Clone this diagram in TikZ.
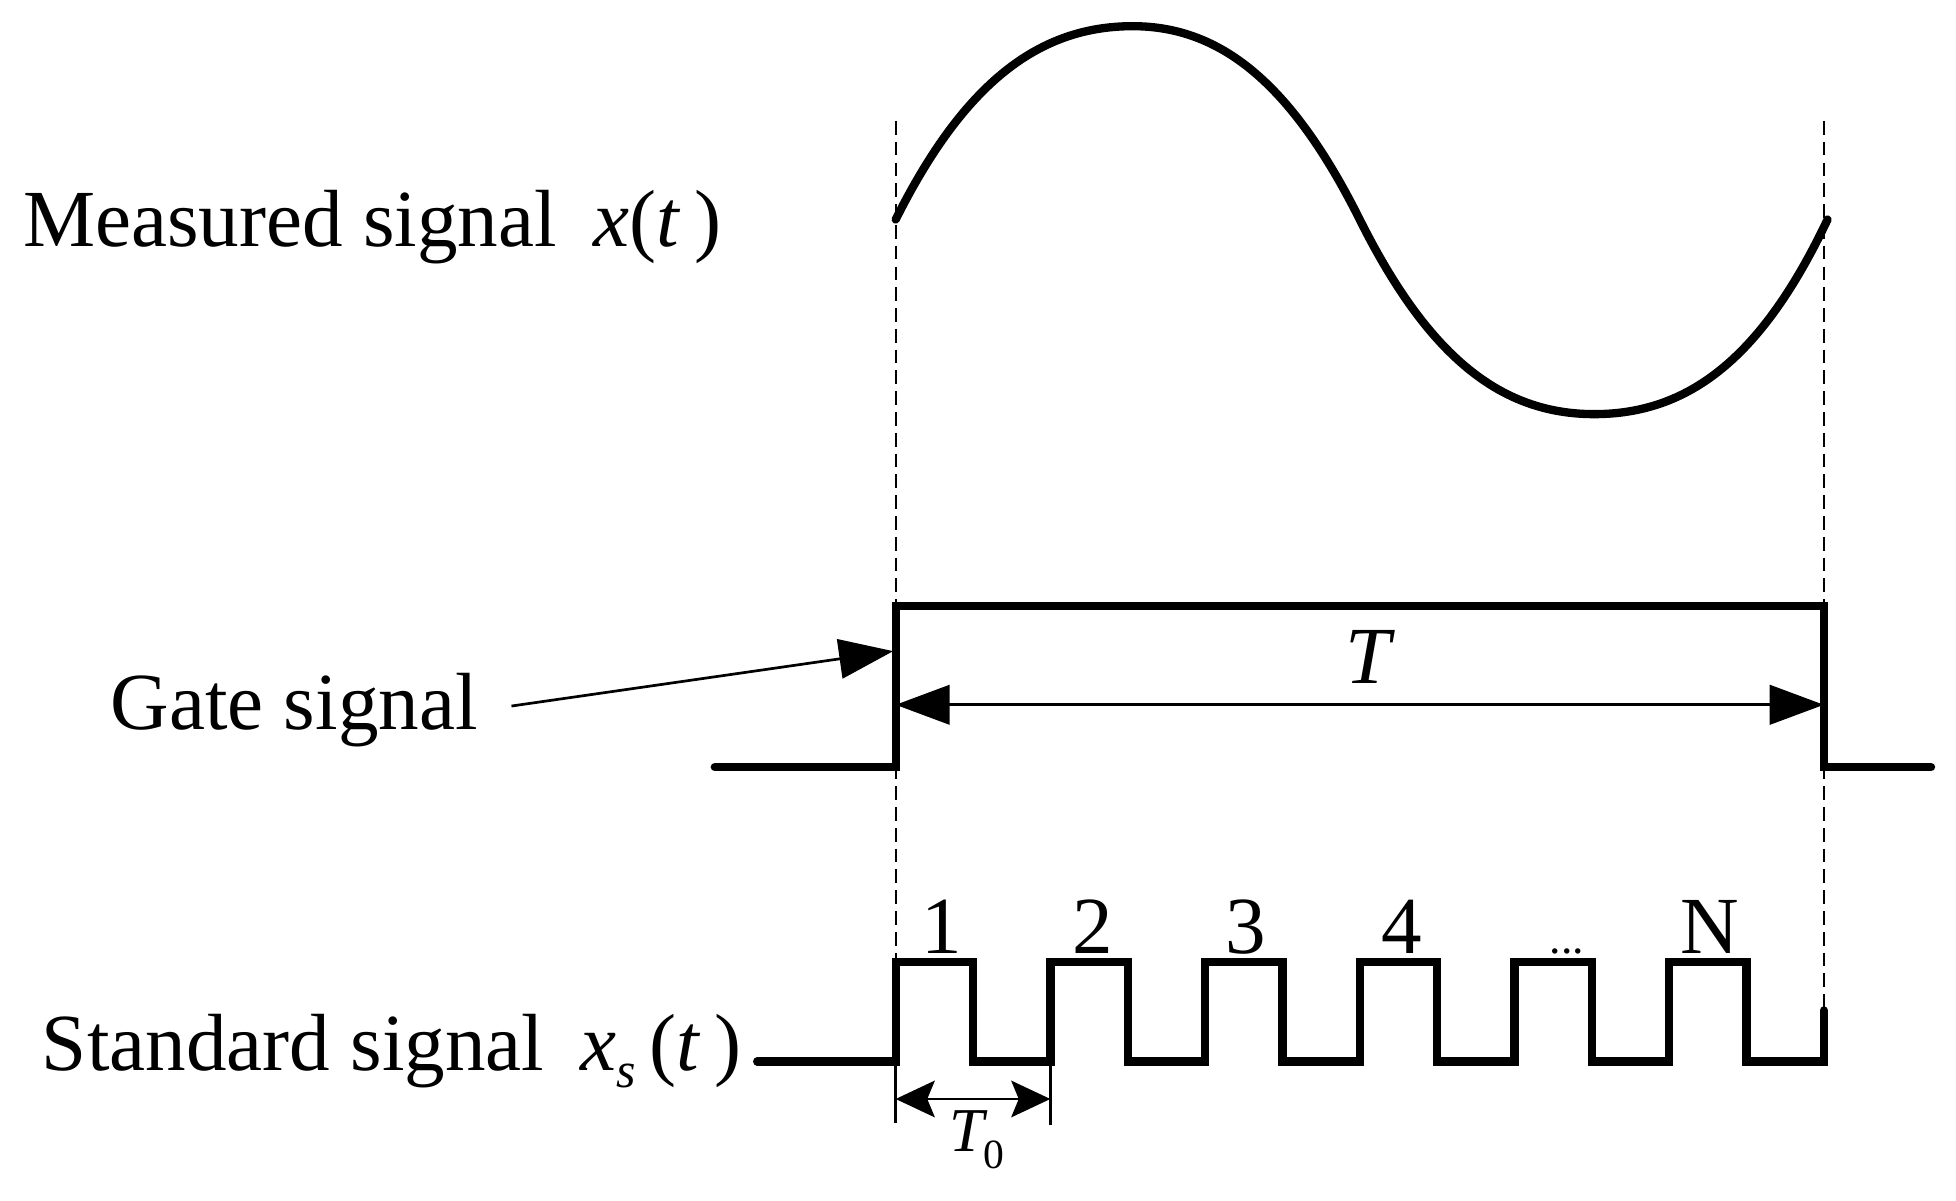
\documentclass[tikz,border=0pt]{standalone}
\usepackage{fontspec}
\setmainfont{Liberation Serif}
\usetikzlibrary{arrows.meta}
\tikzset{
  bigtip/.tip={Triangle[length=13pt,width=9.5pt]},
  smalltip/.tip={Stealth[length=9.4pt,width=8.8pt,inset=1.8pt]},
}
\begin{document}
\begin{tikzpicture}[x=0.3pt,y=-0.3pt,
  sig/.style={line width=2pt, line join=miter, line cap=round},
  thinline/.style={line width=0.65pt},
  guide/.style={line width=0.45pt, dash pattern=on 3.3pt off 1.7pt},
  lbl/.style={font=\fontsize{19.5}{22}\selectfont, inner sep=0pt, anchor=base west},
  num/.style={font=\fontsize{19.5}{22}\selectfont, inner sep=0pt, anchor=base},
]
\useasboundingbox (0,0) rectangle (1568,962);

% labels
\node[lbl] (meas) at (18,198) {Measured signal\hspace{0.45em}\textit{x}(\textit{t}\,)};
\node[lbl] (gate) at (88,585) {Gate signal};
\node[lbl] (std) at (33,858) {Standard signal\hspace{0.45em}\textit{x}\raisebox{-0.45ex}{\fontsize{12}{12}\selectfont\textit{s}}\,(\textit{t}\,)};

% guide lines
\draw[guide] (718,97) -- (718,851);
\draw[guide] (1462,97) -- (1462,812);

% measured signal
\draw[sig] (718,176) .. controls (773,66) and (833,21) .. (908,21)
  .. controls (978,21) and (1035,66) .. (1090,176)
  .. controls (1145,286) and (1203,332) .. (1278,332)
  .. controls (1353,332) and (1412,288) .. (1465,176);

% gate signal
\draw[sig] (573,615) -- (718,615) -- (718,486) -- (1462,486) -- (1462,615) -- (1548,615);
\coordinate (tl) at (718,565);
\coordinate (tr) at (1462,565);
\draw[thinline, bigtip-bigtip] (tl) -- (tr);
\node[font=\fontsize{19.5}{22}\selectfont\itshape, inner sep=0pt] (Tlab) at (1097,527) {T};
\coordinate (gstart) at (410,566);
\coordinate (gtip) at (716,522);
\draw[thinline, -bigtip] (gstart) -- (gtip);

% standard signal
\draw[sig] (607,851) -- (718,851) -- (718,771) -- (780,771) -- (780,851) -- (842,851) -- (842,771) -- (904,771) -- (904,851) -- (966,851) -- (966,771) -- (1028,771) -- (1028,851) -- (1090,851) -- (1090,771) -- (1152,771) -- (1152,851) -- (1214,851) -- (1214,771) -- (1276,771) -- (1276,851) -- (1338,851) -- (1338,771) -- (1400,771) -- (1400,851) -- (1462,851) -- (1462,810);

% pulse numbers
\node[num] (n1) at (755,764) {1};
\node[num] (n2) at (876,764) {2};
\node[num] (n3) at (999,764) {3};
\node[num] (n4) at (1124,764) {4};
\node[font=\fontsize{11}{11}\selectfont, inner sep=0pt, anchor=base] (ndots) at (1256,764) {...};
\node[num] (nN) at (1371,764) {N};

% T0 dimension
\draw[thinline] (718,851) -- (718,900);
\draw[thinline] (842,851) -- (842,902);
\coordinate (t0l) at (718,881);
\coordinate (t0r) at (842,881);
\draw[thinline, smalltip-smalltip] (t0l) -- (t0r);
\node[font=\fontsize{15}{16}\selectfont, inner sep=0pt] (T0lab) at (783,914) {\textit{T}\kern-0.08em\raisebox{-0.6ex}{\fontsize{10}{10}\selectfont 0}};
\end{tikzpicture}
\end{document}
